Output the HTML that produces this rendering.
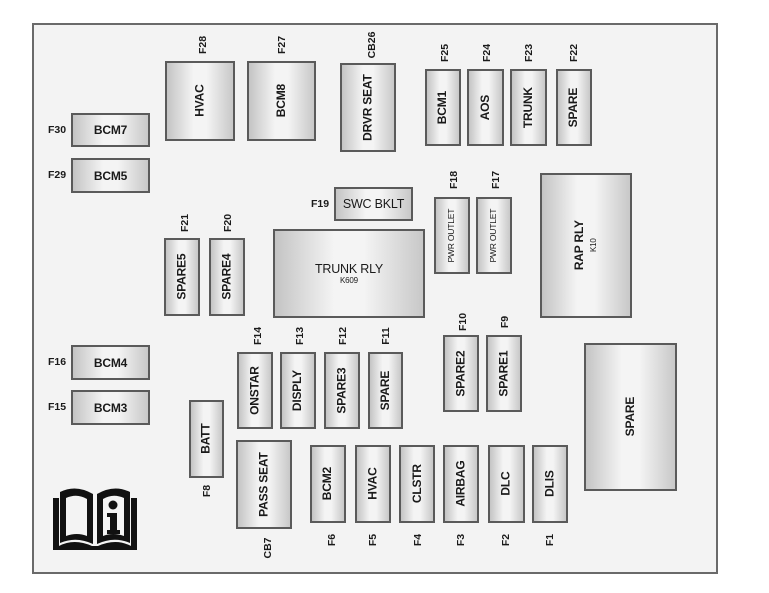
<!DOCTYPE html>
<html><head><meta charset="utf-8"><style>
body{margin:0;width:769px;height:593px;background:#fff;position:relative;overflow:hidden;font-family:"Liberation Sans",Arial,sans-serif;color:#1a1a1a}
#frame{position:absolute;left:32px;top:23px;width:682px;height:547px;border:2px solid #6a6a6a;background:#f3f3f3}
.b{position:absolute;box-sizing:border-box;border:2px solid #5a5a5a;background:linear-gradient(to right,#c4c4c4,#f4f4f4 40%,#f4f4f4 60%,#c8c8c8);display:flex;align-items:center;justify-content:center;font-size:12px;font-weight:bold;letter-spacing:-0.2px}
.v{transform:rotate(-90deg);white-space:nowrap;text-align:center;line-height:1.1}
.l{position:absolute;font-size:10.5px;font-weight:bold;white-space:nowrap;transform:translate(-50%,-50%) rotate(-90deg)}
.h{position:absolute;font-size:10.5px;font-weight:bold;white-space:nowrap;transform:translate(-50%,-50%)}
.s{font-size:8px;font-weight:normal}
</style></head><body>
<div id="frame"></div>

<div class="b" style="left:165px;top:61px;width:70px;height:80px"><span class="v">HVAC</span></div>
<div class="b" style="left:247px;top:61px;width:69px;height:80px"><span class="v">BCM8</span></div>
<div class="b" style="left:340px;top:63px;width:56px;height:89px"><span class="v">DRVR SEAT</span></div>
<div class="b" style="left:425px;top:69px;width:36px;height:77px"><span class="v">BCM1</span></div>
<div class="b" style="left:467px;top:69px;width:37px;height:77px"><span class="v">AOS</span></div>
<div class="b" style="left:510px;top:69px;width:37px;height:77px"><span class="v">TRUNK</span></div>
<div class="b" style="left:556px;top:69px;width:36px;height:77px"><span class="v">SPARE</span></div>

<div class="b" style="left:71px;top:113px;width:79px;height:34px">BCM7</div>
<div class="b" style="left:71px;top:158px;width:79px;height:35px">BCM5</div>
<div class="b" style="left:334px;top:187px;width:79px;height:34px;font-weight:normal;font-size:12.5px">SWC BKLT</div>

<div class="b" style="left:164px;top:238px;width:36px;height:78px"><span class="v">SPARE5</span></div>
<div class="b" style="left:209px;top:238px;width:36px;height:78px"><span class="v">SPARE4</span></div>
<div class="b" style="left:273px;top:229px;width:152px;height:89px;flex-direction:column;font-weight:normal;font-size:12.5px"><div>TRUNK RLY</div><div class="s">K609</div></div>
<div class="b" style="left:434px;top:197px;width:36px;height:77px;font-size:8.5px;font-weight:normal"><span class="v">PWR OUTLET</span></div>
<div class="b" style="left:476px;top:197px;width:36px;height:77px;font-size:8.5px;font-weight:normal"><span class="v">PWR OUTLET</span></div>
<div class="b" style="left:540px;top:173px;width:92px;height:145px"><span class="v">RAP RLY<br><span class="s">K10</span></span></div>

<div class="b" style="left:71px;top:345px;width:79px;height:35px">BCM4</div>
<div class="b" style="left:71px;top:390px;width:79px;height:35px">BCM3</div>

<div class="b" style="left:237px;top:352px;width:36px;height:77px"><span class="v">ONSTAR</span></div>
<div class="b" style="left:280px;top:352px;width:36px;height:77px"><span class="v">DISPLY</span></div>
<div class="b" style="left:324px;top:352px;width:36px;height:77px"><span class="v">SPARE3</span></div>
<div class="b" style="left:368px;top:352px;width:35px;height:77px"><span class="v">SPARE</span></div>
<div class="b" style="left:443px;top:335px;width:36px;height:77px"><span class="v">SPARE2</span></div>
<div class="b" style="left:486px;top:335px;width:36px;height:77px"><span class="v">SPARE1</span></div>
<div class="b" style="left:584px;top:343px;width:93px;height:148px"><span class="v">SPARE</span></div>

<div class="b" style="left:189px;top:400px;width:35px;height:78px"><span class="v">BATT</span></div>
<div class="b" style="left:236px;top:440px;width:56px;height:89px"><span class="v">PASS SEAT</span></div>
<div class="b" style="left:310px;top:445px;width:36px;height:78px"><span class="v">BCM2</span></div>
<div class="b" style="left:355px;top:445px;width:36px;height:78px"><span class="v">HVAC</span></div>
<div class="b" style="left:399px;top:445px;width:36px;height:78px"><span class="v">CLSTR</span></div>
<div class="b" style="left:443px;top:445px;width:36px;height:78px"><span class="v">AIRBAG</span></div>
<div class="b" style="left:488px;top:445px;width:37px;height:78px"><span class="v">DLC</span></div>
<div class="b" style="left:532px;top:445px;width:36px;height:78px"><span class="v">DLIS</span></div>

<!-- labels -->
<div class="l" style="left:203px;top:45px">F28</div>
<div class="l" style="left:282px;top:45px">F27</div>
<div class="l" style="left:372px;top:45px">CB26</div>
<div class="l" style="left:445px;top:53px">F25</div>
<div class="l" style="left:487px;top:53px">F24</div>
<div class="l" style="left:529px;top:53px">F23</div>
<div class="l" style="left:574px;top:53px">F22</div>
<div class="l" style="left:185px;top:223px">F21</div>
<div class="l" style="left:228px;top:223px">F20</div>
<div class="l" style="left:454px;top:180px">F18</div>
<div class="l" style="left:496px;top:180px">F17</div>
<div class="l" style="left:258px;top:336px">F14</div>
<div class="l" style="left:300px;top:336px">F13</div>
<div class="l" style="left:343px;top:336px">F12</div>
<div class="l" style="left:386px;top:336px">F11</div>
<div class="l" style="left:463px;top:322px">F10</div>
<div class="l" style="left:505px;top:322px">F9</div>
<div class="l" style="left:207px;top:491px">F8</div>
<div class="l" style="left:268px;top:548px">CB7</div>
<div class="l" style="left:332px;top:540px">F6</div>
<div class="l" style="left:373px;top:540px">F5</div>
<div class="l" style="left:418px;top:540px">F4</div>
<div class="l" style="left:461px;top:540px">F3</div>
<div class="l" style="left:506px;top:540px">F2</div>
<div class="l" style="left:550px;top:540px">F1</div>
<div class="h" style="left:57px;top:130px">F30</div>
<div class="h" style="left:57px;top:175px">F29</div>
<div class="h" style="left:57px;top:362px">F16</div>
<div class="h" style="left:57px;top:407px">F15</div>
<div class="h" style="left:320px;top:204px">F19</div>

<!-- book icon -->
<svg style="position:absolute;left:52px;top:486px" width="86" height="66" viewBox="0 0 86 66">
<path d="M1 12 L7 12 L7 60 Q22 52 40 60 L46 60 Q64 52 79 60 L79 12 L85 12 L85 64 L1 64 Z" fill="#111"/>
<path d="M8 6 Q24 -2 41 8 L41 58 Q24 50 8 57 Z" fill="#111"/>
<path d="M45 8 Q62 -2 78 6 L78 57 Q62 50 45 58 Z" fill="#111"/>
<path d="M14 12 Q25 7 35 13 L35 50 Q25 46 14 50 Z" fill="#f3f3f3"/>
<path d="M51 13 Q61 7 72 12 L72 50 Q61 46 51 50 Z" fill="#f3f3f3"/>
<circle cx="61" cy="19" r="4.5" fill="#111"/>
<path d="M55 27 L65 27 L65 44 L68 44 L68 48 L55 48 L55 44 L58 44 L58 31 L55 31 Z" fill="#111"/>
</svg>
</body></html>
